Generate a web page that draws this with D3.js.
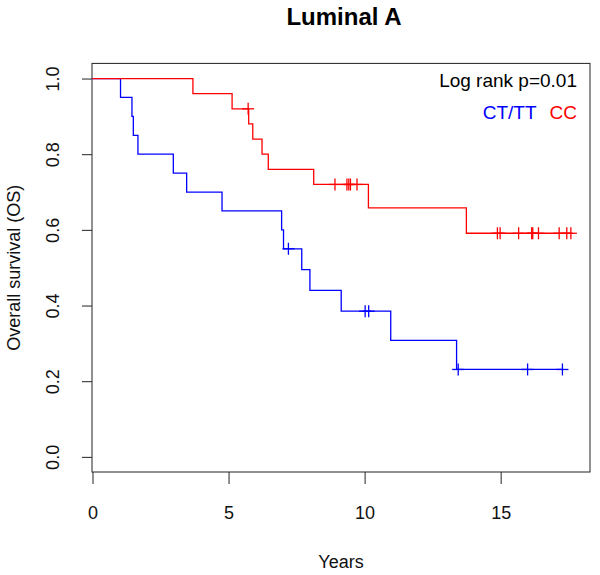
<!DOCTYPE html>
<html><head><meta charset="utf-8">
<script src="https://cdn.jsdelivr.net/npm/d3@7"></script>
<style>
body{margin:0;background:#fff;}
text{font-family:"Liberation Sans",Arial,Helvetica,sans-serif;}
</style></head>
<body>
<svg id="chart" width="600" height="575"></svg>
<script>
// Kaplan-Meier data
const blueEventTimes = [1.03, 1.45, 1.50, 1.67, 2.97, 3.46, 4.76, 6.95, 7.02, 7.69, 7.99, 9.14, 10.96, 13.38];
const blueSurvival   = [0.95, 0.90, 0.85, 0.80, 0.75, 0.70, 0.65, 0.60, 0.55, 0.495, 0.44, 0.385, 0.308, 0.231];
const blueCensorTimes = [7.2, 10.02, 10.15, 13.44, 15.99, 17.27];

const redEventTimes = [3.69, 5.13, 5.74, 5.89, 6.23, 6.46, 8.13, 10.14, 13.74];
const redSurvival   = [0.96, 0.92, 0.88, 0.84, 0.80, 0.76, 0.72, 0.658, 0.591];
const redCensorTimes = [5.72, 8.91, 9.35, 9.42, 9.48, 9.72, 14.88, 14.98, 15.66, 16.14, 16.18, 16.39, 17.15, 17.43, 17.58];

const xTicks = [0, 5, 10, 15];
const yTicks = [0.0, 0.2, 0.4, 0.6, 0.8, 1.0];
const groupLabels = ["CT/TT", "CC"];
const groupColors = ["#0000ff", "#ff0000"];
const titleText = "Luminal A";
const pText = "Log rank p=0.01";

(function () {
const svg = d3.select("#chart");
const pl = 92, pr = 590, pt = 63.4, pb = 472;
const xMax = 17.58 * 1.04;
const x = d3.scaleLinear().domain([0, xMax]).range([92.5, pr]);
const y = d3.scaleLinear().domain([-0.04, 1.04]).range([pb, pt]);
const FONT = '"Liberation Sans",Arial,sans-serif';

// frame
svg.append("rect").attr("x", pl).attr("y", pt).attr("width", pr - pl).attr("height", pb - pt)
  .attr("fill", "none").attr("stroke", "#222").attr("stroke-width", 1);

// axes
const xAxis = d3.axisBottom(x).tickValues(xTicks).tickSize(12).tickPadding(22).tickFormat(d3.format("d"));
const gx = svg.append("g").attr("transform", `translate(0,${pb})`).call(xAxis);
gx.select(".domain").remove();
gx.selectAll("line").attr("stroke", "#222");
gx.selectAll("text").attr("font-size", 18).attr("fill", "#111").attr("font-family", FONT);

const yAxis = d3.axisLeft(y).tickValues(yTicks).tickSize(10).tickFormat(d3.format(".1f"));
const gy = svg.append("g").attr("transform", `translate(${pl},0)`).call(yAxis);
gy.select(".domain").remove();
gy.selectAll("line").attr("stroke", "#222");
gy.selectAll(".tick text").attr("font-size", 18).attr("fill", "#111").attr("font-family", FONT)
  .attr("text-anchor", "middle").attr("x", 0).attr("y", 0).attr("dy", 0)
  .attr("transform", "translate(-33,0) rotate(-90)");

// axis titles
svg.append("text").attr("x", (pl + pr) / 2).attr("y", 568).attr("text-anchor", "middle")
  .attr("font-size", 18).attr("fill", "#111").text("Years");
svg.append("text").attr("transform", `translate(20,${(pt + pb) / 2}) rotate(-90)`).attr("text-anchor", "middle")
  .attr("font-size", 18).attr("fill", "#111").text("Overall survival (OS)");
svg.append("text").attr("x", (pl + pr) / 2 + 3).attr("y", 25).attr("text-anchor", "middle")
  .attr("font-size", 24).attr("font-weight", "bold").attr("fill", "#000").text(titleText);

// curves
function survAt(times, surv, t) {
  let s = 1;
  for (let i = 0; i < times.length; i++) if (times[i] <= t) s = surv[i];
  return s;
}
function stepPoints(times, surv, endT) {
  const pts = [[0, 1]];
  times.forEach((t, i) => pts.push([t, surv[i]]));
  pts.push([endT, surv[surv.length - 1]]);
  return pts;
}
const series = [
  {times: blueEventTimes, surv: blueSurvival, cens: blueCensorTimes, color: groupColors[0]},
  {times: redEventTimes, surv: redSurvival, cens: redCensorTimes, color: groupColors[1]}
];
const line = d3.line().x(d => x(d[0])).y(d => y(d[1])).curve(d3.curveStepAfter);
series.forEach(s => {
  const endT = Math.max(d3.max(s.cens), d3.max(s.times));
  svg.append("path").attr("d", line(stepPoints(s.times, s.surv, endT)))
    .attr("fill", "none").attr("stroke", s.color).attr("stroke-width", 1.3);
  const g = svg.append("g");
  s.cens.forEach(t => {
    const cx = x(t), cy = y(survAt(s.times, s.surv, t));
    g.append("line").attr("x1", cx).attr("x2", cx).attr("y1", cy - 6).attr("y2", cy + 6).attr("stroke", s.color).attr("stroke-width", 1.3);
    g.append("line").attr("x1", cx - 6).attr("x2", cx + 6).attr("y1", cy).attr("y2", cy).attr("stroke", s.color).attr("stroke-width", 1.3);
  });
});

// legend
svg.append("text").attr("x", 577).attr("y", 87).attr("text-anchor", "end").attr("font-size", 19).attr("fill", "#000").text(pText);
const lg = svg.append("text").attr("x", 577).attr("y", 119).attr("text-anchor", "end").attr("font-size", 19);
lg.append("tspan").attr("fill", groupColors[0]).text(groupLabels[0]);
lg.append("tspan").attr("fill", groupColors[1]).attr("dx", 13).text(groupLabels[1]);
})();
</script>
</body></html>
